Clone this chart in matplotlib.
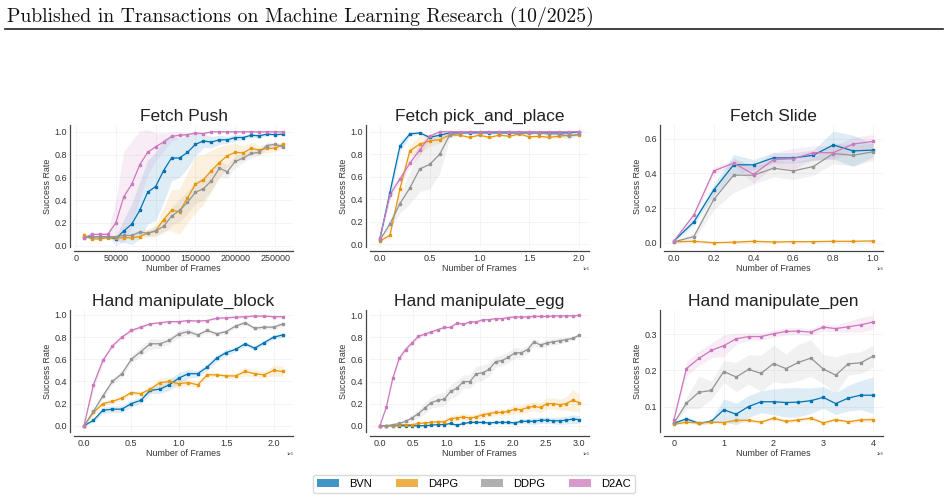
import numpy as np
import matplotlib.pyplot as plt
from matplotlib.lines import Line2D
from matplotlib.patches import Patch

plt.rcParams['font.family'] = ['Liberation Sans', 'DejaVu Sans']

methods = ["BVN", "D4PG", "DDPG", "D2AC"]
colors = ["#0173b2", "#e8960c", "#949494", "#cc78bc"]

# --- Fetch Push (frames) ---
push_x = np.arange(10000, 260001, 10000)
push_bvn = [0.08, 0.08, 0.08, 0.08, 0.06, 0.13, 0.19, 0.31, 0.47, 0.52, 0.66, 0.77, 0.77,
            0.82, 0.89, 0.92, 0.91, 0.93, 0.93, 0.95, 0.95, 0.97, 0.965, 0.98, 0.975, 0.98]
push_bvn_sd = [0.01, 0.01, 0.01, 0.01, 0.02, 0.1, 0.18, 0.25, 0.28, 0.3, 0.28, 0.2, 0.17,
               0.14, 0.1, 0.06, 0.05, 0.04, 0.03, 0.03, 0.02, 0.02, 0.02, 0.01, 0.01, 0.01]
push_d4pg = [0.09, 0.06, 0.06, 0.07, 0.07, 0.07, 0.07, 0.08, 0.11, 0.13, 0.23, 0.31, 0.30,
             0.42, 0.54, 0.58, 0.66, 0.73, 0.79, 0.82, 0.815, 0.855, 0.84, 0.855, 0.855, 0.89]
push_d4pg_sd = [0.01, 0.01, 0.01, 0.01, 0.01, 0.01, 0.01, 0.02, 0.03, 0.05, 0.1, 0.18, 0.2,
                0.22, 0.25, 0.22, 0.18, 0.14, 0.1, 0.08, 0.06, 0.05, 0.04, 0.04, 0.03, 0.03]
push_ddpg = [0.07, 0.08, 0.08, 0.08, 0.08, 0.09, 0.09, 0.12, 0.11, 0.13, 0.17, 0.26, 0.31,
             0.38, 0.47, 0.50, 0.57, 0.68, 0.65, 0.74, 0.77, 0.81, 0.82, 0.88, 0.89, 0.87]
push_ddpg_sd = [0.01, 0.01, 0.01, 0.01, 0.01, 0.01, 0.01, 0.02, 0.03, 0.04, 0.06, 0.08, 0.1,
                0.1, 0.1, 0.1, 0.09, 0.07, 0.06, 0.05, 0.04, 0.04, 0.03, 0.03, 0.02, 0.02]
push_d2ac = [0.07, 0.10, 0.10, 0.10, 0.20, 0.43, 0.54, 0.71, 0.82, 0.87, 0.91, 0.96, 0.97,
             0.975, 0.99, 0.985, 1.0, 1.0, 1.0, 1.0, 1.0, 1.0, 1.0, 1.0, 1.0, 1.0]
push_d2ac_sd = [0.01, 0.01, 0.01, 0.02, 0.2, 0.4, 0.38, 0.3, 0.2, 0.12, 0.08, 0.04, 0.03,
                0.02, 0.01, 0.01, 0.005, 0.005, 0.005, 0.005, 0.005, 0.005, 0.005, 0.005, 0.005, 0.005]

# --- Fetch pick_and_place ---
pick_x = np.arange(21) * 0.1e6
pick_bvn = [0.05, 0.46, 0.87, 0.98, 0.99, 0.95, 0.97, 0.99, 0.99, 0.99, 0.99,
            0.99, 0.99, 0.99, 0.99, 0.99, 0.99, 0.99, 0.99, 0.99, 1.0]
pick_bvn_sd = [0.01, 0.06, 0.05, 0.02, 0.01, 0.02, 0.01, 0.01, 0.01, 0.01, 0.01,
               0.01, 0.01, 0.01, 0.01, 0.01, 0.01, 0.01, 0.01, 0.01, 0.01]
pick_d4pg = [0.03, 0.08, 0.49, 0.83, 0.89, 0.92, 0.93, 0.97, 0.97, 0.95, 0.97,
             0.95, 0.97, 0.96, 0.98, 0.955, 0.96, 0.95, 0.96, 0.97, 0.97]
pick_d4pg_sd = [0.01, 0.02, 0.05, 0.05, 0.08, 0.05, 0.03, 0.02, 0.01, 0.01, 0.01,
                0.01, 0.01, 0.01, 0.01, 0.01, 0.01, 0.015, 0.01, 0.01, 0.01]
pick_ddpg = [0.04, 0.18, 0.36, 0.50, 0.67, 0.71, 0.80, 0.97, 0.99, 1.0, 1.0,
             1.0, 1.0, 1.0, 0.99, 0.99, 0.99, 0.98, 0.98, 0.96, 0.98]
pick_ddpg_sd = [0.01, 0.04, 0.08, 0.14, 0.2, 0.22, 0.17, 0.03, 0.01, 0.005, 0.005,
                0.005, 0.005, 0.005, 0.01, 0.01, 0.01, 0.02, 0.02, 0.03, 0.01]
pick_d2ac = [0.06, 0.44, 0.58, 0.72, 0.84, 0.96, 1.0, 1.0, 1.0, 1.0, 1.0,
             1.0, 1.0, 1.0, 1.0, 1.0, 1.0, 1.0, 1.0, 1.0, 1.0]
pick_d2ac_sd = [0.01, 0.04, 0.03, 0.04, 0.05, 0.02, 0.005, 0.005, 0.005, 0.005, 0.005,
                0.005, 0.005, 0.005, 0.005, 0.005, 0.005, 0.005, 0.005, 0.005, 0.005]

# --- Fetch Slide ---
slide_x = np.arange(11) * 0.1e6
slide_bvn = [0.01, 0.12, 0.305, 0.45, 0.45, 0.49, 0.49, 0.505, 0.565, 0.53, 0.535]
slide_bvn_sd = [0.005, 0.02, 0.03, 0.06, 0.03, 0.03, 0.03, 0.03, 0.08, 0.09, 0.04]
slide_d4pg = [0.005, 0.008, 0.0, 0.003, 0.008, 0.004, 0.006, 0.006, 0.008, 0.008, 0.01]
slide_d4pg_sd = [0.005, 0.005, 0.004, 0.005, 0.01, 0.005, 0.005, 0.005, 0.006, 0.006, 0.006]
slide_ddpg = [0.005, 0.035, 0.25, 0.39, 0.39, 0.43, 0.415, 0.44, 0.515, 0.505, 0.525]
slide_ddpg_sd = [0.005, 0.02, 0.06, 0.1, 0.05, 0.05, 0.05, 0.05, 0.06, 0.06, 0.05]
slide_d2ac = [0.01, 0.16, 0.415, 0.46, 0.395, 0.48, 0.485, 0.52, 0.52, 0.57, 0.585]
slide_d2ac_sd = [0.005, 0.02, 0.02, 0.02, 0.05, 0.04, 0.06, 0.04, 0.04, 0.04, 0.04]

# --- Hand manipulate_block ---
block_x = np.arange(22) * 0.1e6
block_bvn = [0.0, 0.05, 0.14, 0.15, 0.15, 0.20, 0.23, 0.32, 0.33, 0.37, 0.43,
             0.47, 0.47, 0.53, 0.61, 0.66, 0.69, 0.74, 0.70, 0.75, 0.80, 0.82]
block_bvn_sd = [0.005, 0.02, 0.03, 0.03, 0.03, 0.03, 0.03, 0.03, 0.04, 0.05, 0.05,
                0.04, 0.03, 0.03, 0.03, 0.03, 0.02, 0.02, 0.02, 0.02, 0.02, 0.02]
block_d4pg = [0.0, 0.12, 0.20, 0.22, 0.25, 0.30, 0.29, 0.33, 0.39, 0.40, 0.38,
              0.39, 0.37, 0.46, 0.46, 0.45, 0.45, 0.49, 0.47, 0.46, 0.50, 0.49]
block_d4pg_sd = [0.005, 0.02, 0.02, 0.02, 0.02, 0.02, 0.02, 0.03, 0.04, 0.04, 0.04,
                 0.03, 0.03, 0.03, 0.02, 0.02, 0.03, 0.04, 0.03, 0.03, 0.05, 0.05]
block_ddpg = [0.0, 0.13, 0.27, 0.40, 0.47, 0.60, 0.67, 0.74, 0.74, 0.77, 0.83,
              0.85, 0.82, 0.86, 0.83, 0.85, 0.90, 0.93, 0.88, 0.89, 0.89, 0.92]
block_ddpg_sd = [0.005, 0.02, 0.03, 0.03, 0.03, 0.03, 0.04, 0.05, 0.04, 0.03, 0.03,
                 0.03, 0.02, 0.02, 0.02, 0.02, 0.02, 0.02, 0.02, 0.02, 0.02, 0.02]
block_d2ac = [0.0, 0.37, 0.59, 0.72, 0.80, 0.86, 0.89, 0.92, 0.93, 0.94, 0.94,
              0.95, 0.945, 0.95, 0.97, 0.975, 0.98, 0.985, 0.99, 0.99, 0.985, 0.985]
block_d2ac_sd = [0.005, 0.04, 0.03, 0.02, 0.02, 0.02, 0.015, 0.01, 0.01, 0.01, 0.01,
                 0.01, 0.01, 0.01, 0.01, 0.01, 0.01, 0.01, 0.01, 0.01, 0.01, 0.01]

# --- Hand manipulate_egg ---
egg_x = np.linspace(0, 3.0e6, 32)
egg_bvn = [0.0, 0.0, 0.0, 0.0, 0.0, 0.0, 0.0, 0.0, 0.005, 0.01, 0.01, 0.02, 0.005, 0.02, 0.03, 0.03,
           0.03, 0.025, 0.03, 0.03, 0.03, 0.025, 0.04, 0.04, 0.04, 0.05, 0.05, 0.045, 0.045, 0.05, 0.06, 0.055]
egg_bvn_sd = [0.002, 0.002, 0.002, 0.003, 0.003, 0.003, 0.004, 0.005, 0.005, 0.006, 0.008, 0.01, 0.01, 0.01, 0.012, 0.012,
              0.012, 0.012, 0.012, 0.015, 0.015, 0.015, 0.02, 0.025, 0.03, 0.03, 0.03, 0.03, 0.035, 0.035, 0.04, 0.035]
egg_d4pg = [0.0, 0.0, 0.0, 0.01, 0.01, 0.01, 0.02, 0.025, 0.03, 0.035, 0.035, 0.065, 0.07, 0.08, 0.07, 0.08,
            0.10, 0.11, 0.12, 0.12, 0.13, 0.15, 0.145, 0.165, 0.175, 0.165, 0.20, 0.20, 0.19, 0.20, 0.23, 0.21]
egg_d4pg_sd = [0.002, 0.002, 0.003, 0.005, 0.008, 0.01, 0.01, 0.01, 0.015, 0.02, 0.025, 0.03, 0.03, 0.03, 0.03, 0.03,
               0.03, 0.03, 0.03, 0.03, 0.035, 0.04, 0.04, 0.04, 0.04, 0.045, 0.05, 0.05, 0.05, 0.06, 0.1, 0.08]
egg_ddpg = [0.0, 0.0, 0.01, 0.02, 0.04, 0.07, 0.11, 0.16, 0.21, 0.23, 0.24, 0.31, 0.34, 0.40, 0.40, 0.47,
            0.48, 0.51, 0.58, 0.59, 0.62, 0.66, 0.66, 0.69, 0.76, 0.73, 0.75, 0.76, 0.77, 0.78, 0.79, 0.82]
egg_ddpg_sd = [0.002, 0.003, 0.005, 0.01, 0.02, 0.03, 0.04, 0.05, 0.05, 0.06, 0.06, 0.06, 0.07, 0.06, 0.06, 0.07,
               0.07, 0.06, 0.05, 0.05, 0.05, 0.05, 0.04, 0.04, 0.03, 0.03, 0.03, 0.03, 0.03, 0.02, 0.02, 0.01]
egg_d2ac = [0.0, 0.17, 0.43, 0.61, 0.69, 0.75, 0.81, 0.83, 0.85, 0.87, 0.89, 0.89, 0.93, 0.92, 0.94, 0.94,
            0.96, 0.96, 0.97, 0.97, 0.98, 0.985, 0.985, 0.985, 0.99, 0.99, 0.99, 0.995, 0.995, 0.995, 0.995, 1.0]
egg_d2ac_sd = [0.002, 0.01, 0.02, 0.03, 0.03, 0.025, 0.02, 0.015, 0.015, 0.01, 0.01, 0.01, 0.01, 0.01, 0.01, 0.01,
               0.01, 0.01, 0.01, 0.01, 0.01, 0.01, 0.01, 0.01, 0.01, 0.01, 0.01, 0.01, 0.01, 0.01, 0.01, 0.01]

# --- Hand manipulate_pen ---
pen_x = np.arange(17) * 0.25e6
pen_bvn = [0.055, 0.067, 0.055, 0.06, 0.092, 0.08, 0.101, 0.114, 0.114, 0.112, 0.113, 0.117, 0.126, 0.109, 0.124, 0.132, 0.132]
pen_bvn_sd = [0.004, 0.007, 0.005, 0.005, 0.03, 0.03, 0.03, 0.03, 0.035, 0.04, 0.04, 0.035, 0.03, 0.03, 0.035, 0.04, 0.05]
pen_d4pg = [0.052, 0.058, 0.056, 0.058, 0.057, 0.063, 0.063, 0.058, 0.069, 0.060, 0.064, 0.069, 0.056, 0.065, 0.059, 0.064, 0.065]
pen_d4pg_sd = [0.003, 0.004, 0.004, 0.004, 0.005, 0.005, 0.005, 0.005, 0.005, 0.005, 0.005, 0.005, 0.005, 0.005, 0.005, 0.006, 0.007]
pen_ddpg = [0.055, 0.11, 0.14, 0.145, 0.197, 0.182, 0.203, 0.192, 0.219, 0.205, 0.222, 0.234, 0.204, 0.187, 0.218, 0.221, 0.239]
pen_ddpg_sd = [0.005, 0.015, 0.045, 0.025, 0.03, 0.04, 0.04, 0.05, 0.05, 0.04, 0.05, 0.05, 0.04, 0.05, 0.03, 0.03, 0.03]
pen_d2ac = [0.065, 0.205, 0.233, 0.255, 0.268, 0.287, 0.293, 0.293, 0.301, 0.307, 0.308, 0.305, 0.319, 0.315, 0.320, 0.325, 0.333]
pen_d2ac_sd = [0.005, 0.02, 0.02, 0.02, 0.03, 0.015, 0.01, 0.01, 0.01, 0.01, 0.01, 0.01, 0.01, 0.01, 0.015, 0.02, 0.02]

titles = ["Fetch Push", "Fetch pick_and_place", "Fetch Slide",
          "Hand manipulate_block", "Hand manipulate_egg", "Hand manipulate_pen"]
panels = [
    (push_x, [push_bvn, push_d4pg, push_ddpg, push_d2ac],
     [push_bvn_sd, push_d4pg_sd, push_ddpg_sd, push_d2ac_sd], (-0.011, 1.06), [0, 0.2, 0.4, 0.6, 0.8, 1.0]),
    (pick_x, [pick_bvn, pick_d4pg, pick_ddpg, pick_d2ac],
     [pick_bvn_sd, pick_d4pg_sd, pick_ddpg_sd, pick_d2ac_sd], (-0.024, 1.06), [0, 0.2, 0.4, 0.6, 0.8, 1.0]),
    (slide_x, [slide_bvn, slide_d4pg, slide_ddpg, slide_d2ac],
     [slide_bvn_sd, slide_d4pg_sd, slide_ddpg_sd, slide_d2ac_sd], (-0.025, 0.68), [0, 0.2, 0.4, 0.6]),
    (block_x, [block_bvn, block_d4pg, block_ddpg, block_d2ac],
     [block_bvn_sd, block_d4pg_sd, block_ddpg_sd, block_d2ac_sd], (-0.056, 1.045), [0, 0.2, 0.4, 0.6, 0.8, 1.0]),
    (egg_x, [egg_bvn, egg_d4pg, egg_ddpg, egg_d2ac],
     [egg_bvn_sd, egg_d4pg_sd, egg_ddpg_sd, egg_d2ac_sd], (-0.057, 1.048), [0, 0.2, 0.4, 0.6, 0.8, 1.0]),
    (pen_x, [pen_bvn, pen_d4pg, pen_ddpg, pen_d2ac],
     [pen_bvn_sd, pen_d4pg_sd, pen_ddpg_sd, pen_d2ac_sd], (0.031, 0.366), [0.1, 0.2, 0.3]),
]

fig = plt.figure(figsize=(9.48, 5.01), dpi=100)

# page header from the paper
fig.text(7 / 948, 1 - 22 / 501, "Published in Transactions on Machine Learning Research (10/2025)",
         family="cmr10", fontsize=14.2, va="baseline", color="#111111")
fig.add_artist(Line2D([5 / 948, 943 / 948], [1 - 28.5 / 501] * 2, color="#222222", lw=1.2))

lefts = [74 / 948, 370 / 948, 664 / 948]
bottoms = [1 - 247 / 501, 1 - 432 / 501]
w, h = 219 / 948, 122 / 501

for i, (x, means, sds, ylim, yticks) in enumerate(panels):
    ax = fig.add_axes([lefts[i % 3], bottoms[i // 3], w, h])
    for m, s, c in zip(means, sds, colors):
        m = np.array(m)
        s = np.array(s)
        ax.fill_between(x, m - s, m + s, color=c, alpha=0.13, lw=0)
        ax.plot(x, m, color=c, lw=0.9, marker="s", markersize=1.8)
    ax.set_ylim(ylim)
    ax.set_yticks(yticks)
    ax.set_title(titles[i], fontsize=12.5, pad=3, color="#222222")
    ax.set_xlabel("Number of Frames", fontsize=6.4, labelpad=0.5, color="#333333")
    ax.set_ylabel("Success Rate", fontsize=6.4, labelpad=2, color="#333333")
    ax.grid(True, color="#f2f2f2", linewidth=0.6)
    ax.set_axisbelow(True)
    for side in ("top", "right"):
        ax.spines[side].set_visible(False)
    for side in ("left", "bottom"):
        ax.spines[side].set_position(("outward", 3))
        ax.spines[side].set_color("#444444")
        ax.spines[side].set_linewidth(0.9)
    ax.tick_params(length=0, labelsize=6.5, labelcolor="#333333", pad=2)
    ax.xaxis.get_offset_text().set_fontsize(3)

handles = [Patch(facecolor=c, alpha=0.75, edgecolor="none", label=m) for m, c in zip(methods, colors)]
fig.legend(handles=handles, loc="center", bbox_to_anchor=(0.5, 1 - 484 / 501), ncol=4, fontsize=8,
           handlelength=2.0, handletextpad=0.9, columnspacing=2.1, frameon=True,
           edgecolor="#d0d0d0", fancybox=True, borderpad=0.4)

fig.savefig("out.png", dpi=100)
